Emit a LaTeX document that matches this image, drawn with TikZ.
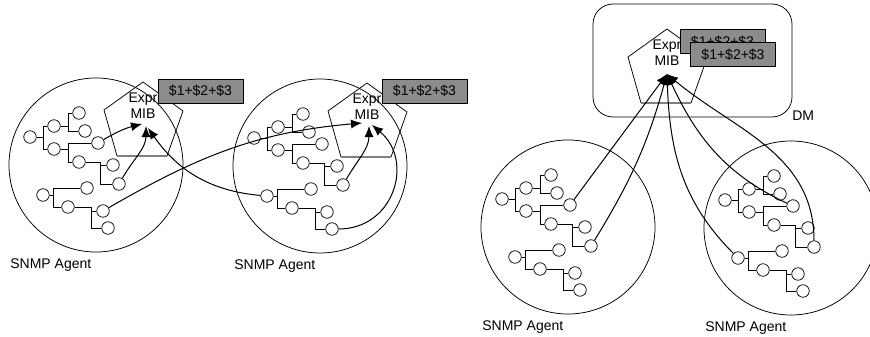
\documentclass[tikz,border=0pt]{standalone}
\usepackage{fontspec}
\setmainfont{Liberation Sans}
\usetikzlibrary{arrows.meta}
\definecolor{boxgray}{gray}{0.55}
\tikzset{
  leaf/.style={circle, draw, fill=white, minimum size=12.5pt, inner sep=0pt},
  gbox/.style={draw, fill=boxgray, minimum width=85pt, minimum height=24pt, inner sep=0pt},
  lab/.style={anchor=base west, inner sep=0pt},
  mibtext/.style={anchor=north, align=center, inner sep=0pt},
  link/.style={->, line width=1pt},
}
\begin{document}
\begin{tikzpicture}[x=1pt, y=1pt, >={Latex[length=11pt,width=9pt]}, font=\fontsize{14}{16}\selectfont, line width=0.75pt]
\useasboundingbox (0,0) rectangle (870,-337);
\clip (0,0) rectangle (870,-337);
% the DM
\draw[rounded corners=20pt] (593,-4) rectangle (792,-117);
\node[lab] (dm) at (792,-120) {DM};
% agents with their trees
\foreach \n/\cx/\cy in {a/96/-165, b/320/-166, c/568/-227, d/791/-228}{
  \begin{scope}[shift={(\cx,\cy)}]
    \draw (0,0) circle[radius=87pt];
    \foreach \m/\u/\v in {r/-66/28, b1/-42/39, b2/-42/16, c1/-17/52, c2/-11/34, d1/2/22, d2/-17/3,
        e1/17/0, e2/23/-19, f/-53/-30, g1/-9/-23, g2/-28/-42, h1/7/-46, h2/12/-63}
      \node[leaf] (\n-\m) at (\u,\v) {};
    \coordinate (\n-jr) at (-53,28);
    \coordinate (\n-jb1) at (-28,39);
    \coordinate (\n-jb2) at (-28,16);
    \coordinate (\n-jd2) at (4,3);
    \coordinate (\n-jf) at (-43,-30);
    \coordinate (\n-jg2) at (-5,-42);
    \draw (\n-r) -- (\n-jr) (\n-b1) -| (\n-jr) (\n-b2) -| (\n-jr)
          (\n-b1) -- (\n-jb1) (\n-c1) -| (\n-jb1) (\n-c2) -| (\n-jb1)
          (\n-b2) -- (\n-jb2) (\n-d1) -| (\n-jb2) (\n-d2) -| (\n-jb2)
          (\n-d2) -- (\n-jd2) (\n-e1) -| (\n-jd2) (\n-e2) -| (\n-jd2)
          (\n-f) -- (\n-jf) (\n-g1) -| (\n-jf) (\n-g2) -| (\n-jf)
          (\n-g2) -- (\n-jg2) (\n-h1) -| (\n-jg2) (\n-h2) -| (\n-jg2);
    \node[lab] (\n-lab) at (-86,-103.5) {SNMP Agent};
  \end{scope}
}
% expression MIBs
\foreach \t/\x/\y in {m1/143/-82, m2/367/-83, m3/667/-29}{
  \draw (\x-26,\y-74) -- (\x-39,\y-28) -- (\x,\y) -- (\x+40,\y-29) -- (\x+24,\y-74);
  \draw[gray, line width=1.1pt] (\x-26,\y-74) -- (\x+24,\y-74);
  \node[mibtext] (\t) at (\x,\y-10) {Expr\\MIB};
}
\node[gbox] (x1) at (200.5,-91) {\$1+\$2+\$3};
\node[gbox] (x2) at (424.5,-91) {\$1+\$2+\$3};
\node[gbox] (x3) at (722.5,-41.5) {\$1+\$2+\$3};
\node[gbox] (x4) at (733,-54.5) {\$1+\$2+\$3};
% arrow tips
\coordinate (t1) at (142,-124);
\coordinate (t2) at (146,-126);
\coordinate (t3) at (148,-128);
\coordinate (t4) at (362,-123);
\coordinate (t5) at (369,-126);
\coordinate (t6) at (372,-125);
\coordinate (t7) at (667,-74);
% polling
\draw[link] (a-d1) to[bend left=8] (t1);
\draw[link] (a-e2) to[out=60, in=-90] (t2);
\draw[link] (b-f) to[out=175, in=-55] (t3);
\draw[link] (a-h1) to[out=30, in=185] (t4);
\draw[link] (b-e2) to[out=60, in=-90] (t5);
\draw[link] (b-h2) to[out=0, in=-40, looseness=1.3] (t6);
\draw[link] (c-d1) -- (t7);
\draw[link] (c-e2) to[bend right=8] (t7);
\draw[link] (d-f) to[out=135, in=-88] (t7);
\draw[link] (d-d1) to[out=155, in=-65] (t7);
\draw[link] (d-e2) to[out=90, in=-40] (t7);
\end{tikzpicture}
\end{document}
